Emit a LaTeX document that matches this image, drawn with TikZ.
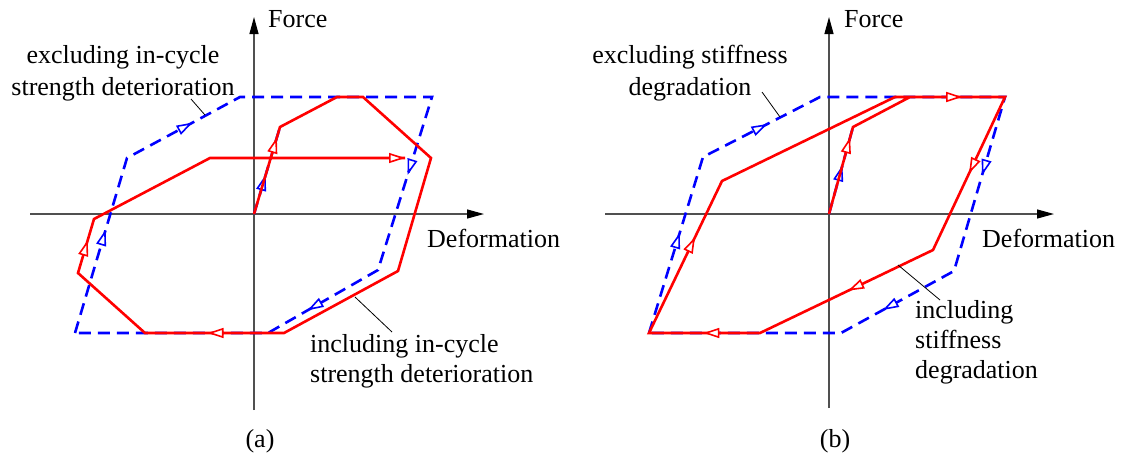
\documentclass[tikz,border=0pt]{standalone}
\usepackage{fontspec}
\setmainfont{Liberation Serif}
\usetikzlibrary{arrows.meta,decorations.markings}
\definecolor{axisgray}{RGB}{80,80,80}
\newcommand\tipmark[4]{%
  \path[decorate,decoration={markings,mark=at position #4 with {\arrow[#1]{Triangle[fill=white,length=16pt,width=10pt]}}}] (#2) -- (#3);}
\begin{document}
\begin{tikzpicture}[x=1pt,y=-1pt,
  every node/.style={font=\fontsize{26}{31}\selectfont,inner sep=0pt},
  axisline/.style={draw=axisgray,line width=1.2pt,-{Triangle[length=17pt,width=9pt,color=black]}},
  redline/.style={draw=red,line width=2.6pt},
  blueline/.style={draw=blue,line width=2.6pt,dash pattern=on 12pt off 7pt},
  redtip/.style={red,line width=1.6pt},
  bluetip/.style={blue,line width=1.6pt},
  leader/.style={draw=black,line width=0.8pt}]
\useasboundingbox (0,0) rectangle (1125,456);

% ---------------- panel (a) ----------------
\coordinate (aO) at (254,214);
\coordinate (aXl) at (30,214);
\coordinate (aXr) at (484,214);
\coordinate (aYb) at (254,410);
\coordinate (aYt) at (254,17);
\draw[axisline] (aXl) -- (aXr);
\draw[axisline] (aYb) -- (aYt);

\coordinate (aR1) at (280,127);
\coordinate (aR2) at (337,97);
\coordinate (aR3) at (363,97);
\coordinate (aR4) at (431,158);
\coordinate (aR5) at (398,271);
\coordinate (aR6) at (284,333);
\coordinate (aR7) at (145,333);
\coordinate (aR8) at (78,273);
\coordinate (aR9) at (94,219);
\coordinate (aR10) at (210,158);
\coordinate (aR11) at (405,158);

\coordinate (aB0) at (75,333);
\coordinate (aB1) at (127,158);
\coordinate (aB2) at (240,97);
\coordinate (aB3) at (432,97);
\coordinate (aB4) at (378,270);
\coordinate (aB5) at (268,333);

\draw[blueline] (aO) -- (aR1);
\draw[blueline] (aB0) -- (aB1) -- (aB2) -- (aB3) -- (aB4) -- (aB5) -- cycle;
\tipmark{bluetip}{aO}{aR1}{0.45}
\tipmark{bluetip}{aB1}{aB2}{0.58}
\tipmark{bluetip}{aB3}{aB4}{0.45}
\tipmark{bluetip}{aB4}{aB5}{0.64}
\tipmark{bluetip}{aB0}{aB1}{0.59}

\draw[redline] (aO) -- (aR1) -- (aR2) -- (aR3) -- (aR4) -- (aR5) -- (aR6) -- (aR7) -- (aR8) -- (aR9) -- (aR10) -- (aR11);
\tipmark{redtip}{aO}{aR1}{0.88}
\tipmark{redtip}{aR10}{aR11}{1}
\tipmark{redtip}{aR6}{aR7}{0.55}
\tipmark{redtip}{aR8}{aR9}{0.61}

\node[anchor=base west] (aForce) at (268,27) {Force};
\node[anchor=base west] (aDef) at (427,247) {Deformation};
\node[anchor=base] (aEx1) at (123,63) {excluding in-cycle};
\node[anchor=base] (aEx2) at (123,95) {strength deterioration};
\node[anchor=base west] (aIn1) at (310,352) {including in-cycle};
\node[anchor=base west] (aIn2) at (310,382) {strength deterioration};
\node[anchor=base] (aCap) at (260,447) {(a)};
\coordinate (aLa) at (191,99);
\coordinate (aLb) at (205,115);
\draw[leader] (aLa) -- (aLb);
\coordinate (aLc) at (355,297);
\coordinate (aLd) at (392,332);
\draw[leader] (aLc) -- (aLd);

% ---------------- panel (b) ----------------
\coordinate (bO) at (829,214);
\coordinate (bXl) at (605,214);
\coordinate (bXr) at (1054,214);
\coordinate (bYb) at (829,408);
\coordinate (bYt) at (829,17);
\draw[axisline] (bXl) -- (bXr);
\draw[axisline] (bYb) -- (bYt);

\coordinate (bR1) at (853,127);
\coordinate (bR2) at (910,97);
\coordinate (bR3) at (1005,97);
\coordinate (bR4) at (933,250);
\coordinate (bR5) at (760,333);
\coordinate (bR6) at (649,333);
\coordinate (bR7) at (722,181);
\coordinate (bR8) at (895,97);
\coordinate (bR9) at (1005,97);

\coordinate (bB0) at (649,333);
\coordinate (bB1) at (703,157);
\coordinate (bB2) at (820,97);
\coordinate (bB3) at (1005,97);
\coordinate (bB4) at (954,271);
\coordinate (bB5) at (841,333);

\draw[blueline] (bO) -- (bR1);
\draw[blueline] (bB0) -- (bB1) -- (bB2) -- (bB3) -- (bB4) -- (bB5) -- cycle;
\tipmark{bluetip}{bO}{bR1}{0.56}
\tipmark{bluetip}{bB1}{bB2}{0.55}
\tipmark{bluetip}{bB3}{bB4}{0.45}
\tipmark{bluetip}{bB4}{bB5}{0.63}
\tipmark{bluetip}{bB0}{bB1}{0.57}

\draw[redline] (bO) -- (bR1) -- (bR2) -- (bR3) -- (bR4) -- (bR5) -- (bR6) -- (bR7) -- (bR8) -- (bR9);
\tipmark{redtip}{bO}{bR1}{0.88}
\tipmark{redtip}{bR8}{bR9}{0.61}
\tipmark{redtip}{bR3}{bR4}{0.5}
\tipmark{redtip}{bR4}{bR5}{0.49}
\tipmark{redtip}{bR5}{bR6}{0.51}
\tipmark{redtip}{bR6}{bR7}{0.63}

\node[anchor=base west] (bForce) at (844,27) {Force};
\node[anchor=base west] (bDef) at (982,247) {Deformation};
\node[anchor=base] (bEx1) at (690,63) {excluding stiffness};
\node[anchor=base] (bEx2) at (690,95) {degradation};
\node[anchor=base west] (bIn1) at (915,318) {including};
\node[anchor=base west] (bIn2) at (915,348) {stiffness};
\node[anchor=base west] (bIn3) at (915,378) {degradation};
\node[anchor=base] (bCap) at (835,447) {(b)};
\coordinate (bLa) at (762,92);
\coordinate (bLb) at (780,117);
\draw[leader] (bLa) -- (bLb);
\coordinate (bLc) at (898,265);
\coordinate (bLd) at (940,300);
\draw[leader] (bLc) -- (bLd);
\end{tikzpicture}
\end{document}
